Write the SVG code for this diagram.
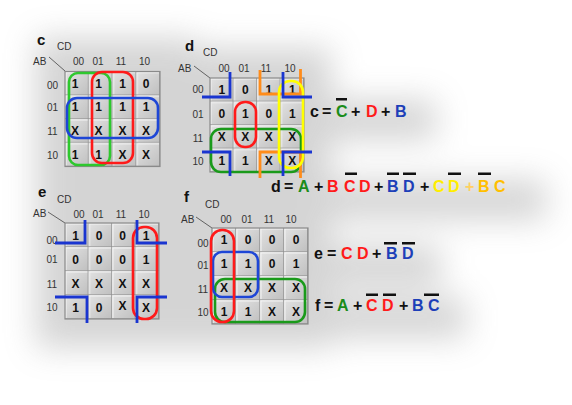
<svg xmlns="http://www.w3.org/2000/svg" width="572" height="405" viewBox="0 0 572 405">
<defs>
<filter id="blur" x="-40%" y="-40%" width="180%" height="180%"><feGaussianBlur stdDeviation="16"/></filter>
<linearGradient id="cg" x1="0" y1="0" x2="1" y2="1"><stop offset="0" stop-color="#e2e2e2"/><stop offset="1" stop-color="#bfbfbf"/></linearGradient>
<pattern id="cell" patternUnits="userSpaceOnUse" width="24" height="24">
<rect width="24" height="24" fill="url(#cg)"/>
<path d="M1 23 V1 H23" fill="none" stroke="#f4f4f4" stroke-width="1"/>
<path d="M0 24 H24 V0" fill="none" stroke="#8a8a8a" stroke-width="1.2"/>
</pattern>
<style>
text{font-family:"Liberation Sans",Arial,sans-serif}
.t{font-size:15px;font-weight:bold;fill:#111}
.lb{font-size:10px;fill:#333}
.rl{font-size:10px;fill:#333;text-anchor:middle}
.v{font-size:12px;font-weight:bold;fill:#111;text-anchor:middle}
.diag{stroke:#444;stroke-width:0.8}
.frame{fill:url(#cell);stroke:#8a8a8a;stroke-width:1.2}
.lp{fill:none;stroke-width:2.6}
.br{fill:none;stroke-width:2.8}
.eq{font-size:16px;font-weight:bold}
.ob{fill:#111}
.k{fill:#111}.G{fill:#1a8c1a}.R{fill:#ff1a1a}.B{fill:#1d3fb8}.Y{fill:#ffee00}.O{fill:#ffbf00}.o{fill:#ffd060}
</style>
</defs>
<rect width="572" height="405" fill="#ffffff"/>
<g id="shadow" filter="url(#blur)" fill="#8a8a8a" opacity="0.36" transform="translate(6 8)">
<rect x="30" y="30" width="160" height="160"/>
<rect x="175" y="40" width="150" height="150"/>
<rect x="300" y="92" width="130" height="40"/>
<rect x="265" y="172" width="275" height="40"/>
<rect x="30" y="185" width="150" height="155"/>
<rect x="180" y="190" width="145" height="150"/>
<rect x="305" y="238" width="130" height="40"/>
<rect x="305" y="290" width="155" height="40"/>
</g>

<g id="map-c">
<text class="t" x="37" y="44.5">c</text>
<text class="lb" x="57" y="50">CD</text>
<text class="lb" x="33" y="64.5">AB</text>
<line class="diag" x1="49" y1="57" x2="65" y2="71"/>
<text class="rl" x="78.5" y="65">00</text><text class="rl" x="98" y="65">01</text><text class="rl" x="121" y="65">11</text><text class="rl" x="144.5" y="65">10</text>
<text class="rl" x="52.5" y="89">00</text><text class="rl" x="52.5" y="111">01</text><text class="rl" x="52.5" y="134.5">11</text><text class="rl" x="52.5" y="159">10</text>
<rect class="frame" x="0" y="0" width="96" height="96" transform="translate(65 71.5) scale(0.9896)"/>
<g>
<text class="v" x="75" y="87.5">1</text><text class="v" x="98.5" y="87.5">1</text><text class="v" x="122.5" y="87.5">1</text><text class="v" x="146" y="87.5">0</text>
<text class="v" x="75" y="111">1</text><text class="v" x="98.5" y="111">1</text><text class="v" x="122.5" y="111">1</text><text class="v" x="146" y="111">1</text>
<text class="v" x="75" y="135">X</text><text class="v" x="98.5" y="135">X</text><text class="v" x="122.5" y="135">X</text><text class="v" x="146" y="135">X</text>
<text class="v" x="75" y="158.5">1</text><text class="v" x="98.5" y="158.5">1</text><text class="v" x="122.5" y="158.5">X</text><text class="v" x="146" y="158.5">X</text>
</g>
</g>

<g id="map-d">
<text class="t" x="185" y="51">d</text>
<text class="lb" x="203" y="56">CD</text>
<text class="lb" x="178" y="72">AB</text>
<line class="diag" x1="194" y1="66" x2="210" y2="78"/>
<text class="rl" x="224" y="72">00</text><text class="rl" x="244" y="72">01</text><text class="rl" x="266" y="72">11</text><text class="rl" x="290" y="72">10</text>
<text class="rl" x="198" y="93">00</text><text class="rl" x="198" y="118">01</text><text class="rl" x="198" y="142">11</text><text class="rl" x="198" y="165">10</text>
<rect class="frame" x="0" y="0" width="96" height="96" transform="translate(210 78) scale(0.979)"/>
<text class="v" x="221.75" y="94">1</text><text class="v" x="245.25" y="94">0</text><text class="v" x="268.75" y="94">1</text><text class="v" x="292.25" y="94">1</text>
<text class="v" x="221.75" y="117.5">0</text><text class="v" x="245.25" y="117.5">1</text><text class="v" x="268.75" y="117.5">0</text><text class="v" x="292.25" y="117.5">1</text>
<text class="v" x="221.75" y="141">X</text><text class="v" x="245.25" y="141">X</text><text class="v" x="268.75" y="141">X</text><text class="v" x="292.25" y="141">X</text>
<text class="v" x="221.75" y="164.5">1</text><text class="v" x="245.25" y="164.5">1</text><text class="v" x="268.75" y="164.5">X</text><text class="v" x="292.25" y="164.5">X</text>
</g>

<g id="map-e">
<text class="t" x="38" y="197">e</text>
<text class="lb" x="57" y="203">CD</text>
<text class="lb" x="33" y="217">AB</text>
<line class="diag" x1="48" y1="212" x2="65" y2="223"/>
<text class="rl" x="79" y="218">00</text><text class="rl" x="98" y="218">01</text><text class="rl" x="121" y="218">11</text><text class="rl" x="144" y="218">10</text>
<text class="rl" x="52" y="244">00</text><text class="rl" x="52" y="263">01</text><text class="rl" x="52" y="288">11</text><text class="rl" x="52" y="311">10</text>
<rect class="frame" x="0" y="0" width="96" height="96" transform="translate(65 223) scale(0.979 1)"/>
<text class="v" x="75.5" y="239.5">1</text><text class="v" x="99" y="239.5">0</text><text class="v" x="122.5" y="239.5">0</text><text class="v" x="146" y="239.5">1</text>
<text class="v" x="75.5" y="263.5">0</text><text class="v" x="99" y="263.5">0</text><text class="v" x="122.5" y="263.5">0</text><text class="v" x="146" y="263.5">1</text>
<text class="v" x="75.5" y="287.5">X</text><text class="v" x="99" y="287.5">X</text><text class="v" x="122.5" y="287.5">X</text><text class="v" x="146" y="287.5">X</text>
<text class="v" x="75.5" y="311.5">1</text><text class="v" x="99" y="311.5">0</text><text class="v" x="122.5" y="309.5">X</text><text class="v" x="146" y="311.5">X</text>
</g>

<g id="map-f">
<text class="t" x="184" y="202">f</text>
<text class="lb" x="205" y="208">CD</text>
<text class="lb" x="181" y="223">AB</text>
<line class="diag" x1="196" y1="217" x2="212" y2="228"/>
<text class="rl" x="226" y="223">00</text><text class="rl" x="247" y="223">01</text><text class="rl" x="269" y="223">11</text><text class="rl" x="291" y="223">10</text>
<text class="rl" x="203" y="247">00</text><text class="rl" x="203" y="269">01</text><text class="rl" x="203" y="293">11</text><text class="rl" x="203" y="316">10</text>
<rect class="frame" x="0" y="0" width="96" height="96" transform="translate(212 228)"/>
<text class="v" x="224" y="244">1</text><text class="v" x="248" y="244">0</text><text class="v" x="272" y="244">0</text><text class="v" x="296" y="244">0</text>
<text class="v" x="224" y="268">1</text><text class="v" x="248" y="268">1</text><text class="v" x="272" y="268">0</text><text class="v" x="296" y="268">1</text>
<text class="v" x="224" y="292">X</text><text class="v" x="248" y="292">X</text><text class="v" x="272" y="292">X</text><text class="v" x="296" y="292">X</text>
<text class="v" x="224" y="316">1</text><text class="v" x="248" y="316">1</text><text class="v" x="272" y="316">X</text><text class="v" x="296" y="316">X</text>
</g>

<g id="connectors">
<rect class="lp" x="69" y="73" width="41" height="92" rx="9" stroke="#2ec82e"/>
<rect class="lp" x="92" y="72" width="41" height="91" rx="10" stroke="#ff1a1a"/>
<rect class="lp" x="67" y="98" width="91" height="40" rx="10" stroke="#1e46d6"/>
<rect class="lp" x="211" y="129" width="90" height="43" rx="10" stroke="#1a9a1a"/>
<rect class="lp" x="235" y="102" width="21" height="45" rx="10" stroke="#ff1a1a"/>
<path class="br" d="M260 70 V94 H300.5 V69" stroke="#ff8c1a"/>
<path class="br" d="M260 178 V152 H300.5 V178" stroke="#ff8c1a"/>
<rect class="lp" x="279" y="81" width="24" height="87" rx="11" stroke="#ffff00" stroke-width="3"/>
<path class="br" d="M202 97 H230 V72" stroke="#1a35d0"/>
<path class="br" d="M312 97 H283 V72" stroke="#1a35d0"/>
<path class="br" d="M202 152 H230 V176" stroke="#1a35d0"/>
<path class="br" d="M312 152 H283 V176" stroke="#1a35d0"/>
<rect class="lp" x="133" y="227" width="24" height="92" rx="11" stroke="#ff1a1a"/>
<path class="br" d="M55 243 H85 V220" stroke="#1a35d0"/>
<path class="br" d="M167 243 H137 V220" stroke="#1a35d0"/>
<path class="br" d="M55 297 H87 V323" stroke="#1a35d0"/>
<path class="br" d="M167 297 H137 V323" stroke="#1a35d0"/>
<rect class="lp" x="215" y="279" width="90" height="43" rx="10" stroke="#1a9a1a"/>
<rect class="lp" x="213" y="252" width="45" height="45" rx="9" stroke="#1e46d6"/>
<rect class="lp" x="211" y="230" width="23" height="92" rx="11" stroke="#ff1a1a"/>
</g>

<g id="eq-c" class="eq">
<text class="k" x="310" y="117">c</text>
<text class="k" x="322" y="117">=</text>
<text class="G" x="336" y="117">C</text><rect class="ob" x="336" y="98" width="11" height="2.5"/>
<text class="k" x="351" y="117">+</text>
<text class="R" x="366" y="117">D</text>
<text class="k" x="381" y="117">+</text>
<text class="B" x="395" y="117">B</text>
</g>

<g id="eq-d" class="eq">
<text class="k" x="271" y="192">d</text>
<text class="k" x="284" y="192">=</text>
<text class="G" x="298" y="192">A</text>
<text class="k" x="314" y="192">+</text>
<text class="R" x="327" y="192">B</text>
<text class="R" x="344" y="192">C</text><rect class="ob" x="345" y="172.5" width="12" height="2.5"/>
<text class="R" x="359" y="192">D</text>
<text class="k" x="374" y="192">+</text>
<text class="B" x="387" y="192">B</text><rect class="ob" x="387" y="172.5" width="12" height="2.5"/>
<text class="B" x="403" y="192">D</text><rect class="ob" x="403" y="172.5" width="13" height="2.5"/>
<text class="k" x="420" y="192">+</text>
<text class="Y" x="433" y="192">C</text>
<text class="Y" x="448" y="192">D</text><rect class="ob" x="448" y="172.5" width="13" height="2.5"/>
<text class="o" x="465" y="192">+</text>
<text class="O" x="478" y="192">B</text><rect class="ob" x="478" y="172.5" width="13" height="2.5"/>
<text class="O" x="494" y="192">C</text>
</g>

<g id="eq-e" class="eq">
<text class="k" x="314" y="259">e</text>
<text class="k" x="327" y="259">=</text>
<text class="R" x="341" y="259">C</text>
<text class="R" x="357" y="259">D</text>
<text class="k" x="372" y="259">+</text>
<text class="B" x="386" y="259">B</text><rect class="ob" x="384" y="242" width="13" height="2.5"/>
<text class="B" x="402" y="259">D</text><rect class="ob" x="402" y="242" width="13" height="2.5"/>
</g>

<g id="eq-f" class="eq">
<text class="k" x="315" y="311">f</text>
<text class="k" x="324" y="311">=</text>
<text class="G" x="337" y="311">A</text>
<text class="k" x="353" y="311">+</text>
<text class="R" x="366" y="311">C</text><rect class="ob" x="366" y="293.5" width="12" height="2.5"/>
<text class="R" x="382" y="311">D</text><rect class="ob" x="383" y="293.5" width="13" height="2.5"/>
<text class="k" x="399" y="311">+</text>
<text class="B" x="412" y="311">B</text>
<text class="B" x="428" y="311">C</text><rect class="ob" x="424" y="293.5" width="15" height="2.5"/>
</g>
</svg>
